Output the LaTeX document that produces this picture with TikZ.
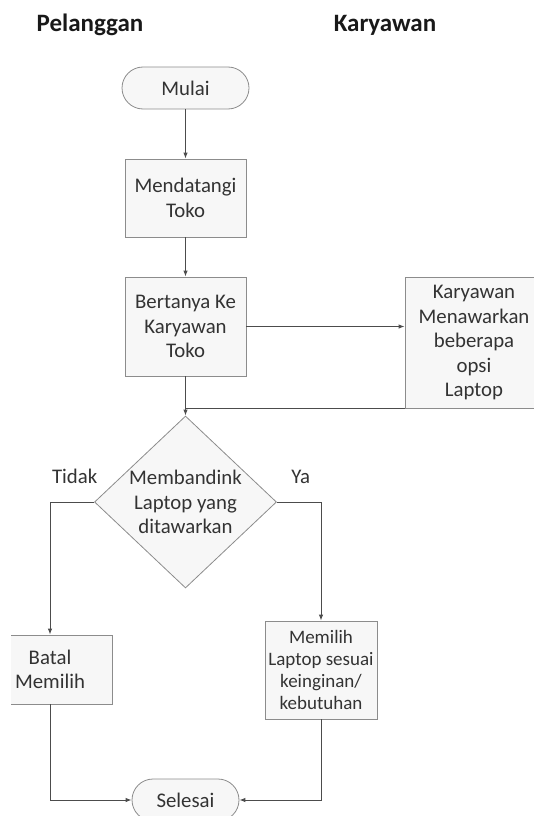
\documentclass[tikz,border=0pt]{standalone}
\usepackage{fontspec}
\setmainfont{Carlito}
\usetikzlibrary{positioning,shapes.geometric,arrows.meta}

\begin{document}
\begin{tikzpicture}[node distance=110pt, thick, >={Latex[length=6pt,width=4.5pt]},
    font=\fontsize{20.8}{24.5}\selectfont, text=black!80,
    kotak/.style={draw=black!45, fill=black!3, rectangle, align=center, inner sep=2pt},
    ujung/.style={kotak, rounded corners=21pt, minimum height=42pt},
    judul/.style={font=\fontsize{25}{30}\selectfont\bfseries, text=black!90},
    garis/.style={draw=black!70, line width=1pt}]
    \useasboundingbox (0,0) rectangle (534pt,-816pt);
    \clip (11pt,1pt) rectangle (535pt,-817pt);

    \node[judul] (pelanggan) at (90pt,-25pt) {Pelanggan};
    \node[judul] (karyawan) at (385pt,-25pt) {Karyawan};

    \node[ujung, minimum width=127pt] (mulai) at (185.5pt,-88pt) {Mulai};
    \node[kotak, below of=mulai, minimum width=121pt, minimum height=78pt] (datang) {Mendatangi\\Toko};
    \node[kotak, below of=datang, node distance=128.5pt, minimum width=121pt, minimum height=99pt] (tanya) {Bertanya Ke\\Karyawan\\Toko};
    \node[kotak, right of=tanya, node distance=288.5pt, yshift=-16pt, minimum width=138pt, minimum height=131pt] (tawar) {Karyawan\\Menawarkan\\beberapa\\opsi\\Laptop};
    \node[diamond, draw=black!45, fill=black!3, below of=tanya, node distance=175.5pt, minimum width=182pt, minimum height=172pt, inner sep=0pt,
        label={[align=center]center:Membandink\\Laptop yang\\ditawarkan}] (banding) {};
    \node[kotak, below of=banding, node distance=167.5pt, xshift=-135.5pt, minimum width=124pt, minimum height=69pt] (batal) {Batal\\Memilih};
    \node[kotak, below of=banding, node distance=168pt, xshift=135.5pt, minimum width=112pt, minimum height=98pt, font=\fontsize{19}{22.3}\selectfont] (memilih) {Memilih\\Laptop sesuai\\keinginan/\\kebutuhan};
    \node[ujung, below of=banding, node distance=298pt, minimum width=107pt] (selesai) {Selesai};

    \draw[garis,->] (mulai) -- (datang);
    \draw[garis,->] (datang) -- (tanya);
    \draw[garis,->] (tanya.east) -- (tanya.east -| tawar.west);
    \draw[garis] (tawar.south west) -- (tawar.south west -| banding.north);
    \draw[garis,->] (tanya) -- (banding);
    \draw[garis,->] (banding.west) -| node[pos=0.22, above=15pt] {Tidak} (batal);
    \draw[garis,->] (banding.east) -| node[pos=0.27, above=15pt] {Ya} (memilih);
    \draw[garis,->] (batal) |- (selesai);
    \draw[garis,->] (memilih) |- (selesai);
\end{tikzpicture}
\end{document}
